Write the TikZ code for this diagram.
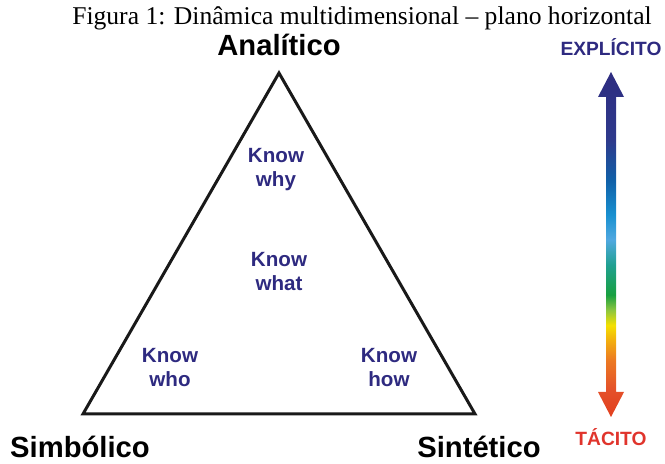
\documentclass[tikz,border=0pt]{standalone}
\usepackage{fontspec}
\setmainfont{Liberation Serif}
\setsansfont{Liberation Sans}
\definecolor{knowblue}{HTML}{2E2A80}
\definecolor{tacred}{HTML}{E0342C}
\definecolor{s1}{HTML}{E23F1E}
\definecolor{s2}{HTML}{E4502A}
\definecolor{s3}{HTML}{EC7A22}
\definecolor{s4}{HTML}{F3B10E}
\definecolor{s5}{HTML}{F4E000}
\definecolor{s6}{HTML}{8CC63F}
\definecolor{s7}{HTML}{18A040}
\definecolor{s8}{HTML}{20A090}
\definecolor{s9}{HTML}{50A8E0}
\definecolor{s10}{HTML}{1890D0}
\definecolor{s11}{HTML}{1060A8}
\definecolor{s12}{HTML}{2E3A8C}
\definecolor{s13}{HTML}{2E2C80}
\pgfdeclareverticalshading{spectrum}{100bp}{color(0bp)=(s1); color(25bp)=(s1);
  color(28.9bp)=(s2); color(33.3bp)=(s3); color(36.2bp)=(s4); color(38.3bp)=(s5);
  color(40.5bp)=(s6); color(42.7bp)=(s7); color(47bp)=(s8); color(50.7bp)=(s9);
  color(54.3bp)=(s10); color(59.3bp)=(s11); color(65.1bp)=(s12); color(75bp)=(s13);
  color(100bp)=(s13)}
\tikzset{
  know/.style={font=\sffamily\bfseries\fontsize{10.3}{12}\selectfont,text=knowblue,align=center},
  vertex/.style={font=\sffamily\bfseries\fontsize{14.6}{16}\selectfont},
  pole/.style={font=\sffamily\bfseries\fontsize{9.6}{11}\selectfont}
}
\begin{document}
\begin{tikzpicture}[x=0.5pt,y=-0.5pt]
	\useasboundingbox(0,0)rectangle(665,464);
	\node[font=\fontsize{12.8}{14}\selectfont](caption)at(362,18){Figura 1: Dinâmica multidimensional -- plano horizontal};
	% triangle
	\coordinate(top)at(279,73);
	\coordinate(left)at(83,414);
	\coordinate(right)at(475,414);
	\draw[line width=1.5pt,color=black!90,line join=miter](top)--(left)--(right)--cycle;
	\node[vertex](ana)at(279,45){Analítico};
	\node[vertex](sim)at(80,447){Simbólico};
	\node[vertex](sin)at(479,447){Sintético};
	\node[know](why)at(276,170){Know\\why};
	\node[know](what)at(279,272){Know\\what};
	\node[know](who)at(170,368){Know\\who};
	\node[know](how)at(389,368){Know\\how};
	% scale
	\node[pole,text=knowblue](exp)at(611,47){EXPLÍCITO};
	\node[pole,text=tacred](tac)at(611,437){TÁCITO};
	\shade[shading=spectrum](611,72)--(624,97)--(616,97)--(616,392)--(624,392)--(611,417)
		--(598,392)--(606,392)--(606,97)--(598,97)--cycle;
\end{tikzpicture}
\end{document}
